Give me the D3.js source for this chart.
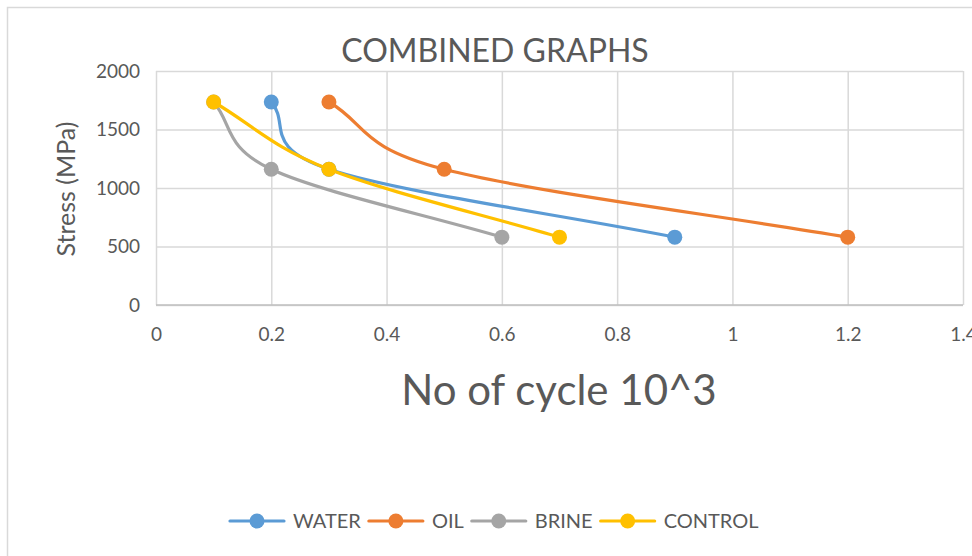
<!DOCTYPE html>
<html>
<head>
<meta charset="utf-8">
<script src="https://cdn.jsdelivr.net/npm/d3@7.9.0/dist/d3.min.js"></script>
<style>
  html, body { margin: 0; padding: 0; background: #fff; }
  svg { display: block; font-family: Lato, "Open Sans", sans-serif; }
</style>
</head>
<body>
<div id="chart"></div>
<script>
// ---------- Data ----------
const seriesNames = ["WATER", "OIL", "BRINE", "CONTROL"];
const seriesColors = ["#5b9bd5", "#ed7d31", "#a5a5a5", "#ffc000"];
const stress = [1735, 1160, 580];
const waterCycles = [0.2, 0.3, 0.9];
const oilCycles = [0.3, 0.5, 1.2];
const brineCycles = [0.1, 0.2, 0.6];
const controlCycles = [0.1, 0.3, 0.7];
const xTicks = [0, 0.2, 0.4, 0.6, 0.8, 1, 1.2, 1.4];
const yTicks = [0, 500, 1000, 1500, 2000];

const series = [waterCycles, oilCycles, brineCycles, controlCycles].map((xs, i) => ({
  name: seriesNames[i],
  color: seriesColors[i],
  points: xs.map((x, j) => ({ x, y: stress[j] }))
}));

// ---------- Excel-like smoothed curve ----------
// bezier segments, control points at +-1/6 of neighbour chord,
// ends reflected so the first/last handle follows the chord
function curveExcel(context) {
  let pts;
  return {
    areaStart() {}, areaEnd() {},
    lineStart() { pts = []; },
    point(x, y) { pts.push([+x, +y]); },
    lineEnd() {
      const n = pts.length;
      if (!n) return;
      context.moveTo(pts[0][0], pts[0][1]);
      if (n === 2) { context.lineTo(pts[1][0], pts[1][1]); return; }
      const p = i => {
        if (i < 0) return [2 * pts[0][0] - pts[1][0], 2 * pts[0][1] - pts[1][1]];
        if (i >= n) return [2 * pts[n - 1][0] - pts[n - 2][0], 2 * pts[n - 1][1] - pts[n - 2][1]];
        return pts[i];
      };
      for (let i = 0; i < n - 1; i++) {
        const p0 = p(i - 1), p1 = p(i), p2 = p(i + 1), p3 = p(i + 2);
        context.bezierCurveTo(
          p1[0] + (p2[0] - p0[0]) / 6, p1[1] + (p2[1] - p0[1]) / 6,
          p2[0] - (p3[0] - p1[0]) / 6, p2[1] - (p3[1] - p1[1]) / 6,
          p2[0], p2[1]);
      }
    }
  };
}

// ---------- Layout ----------
const width = 972, height = 556;
const plot = { left: 156, right: 963, top: 71, bottom: 305 };
const textColor = "#595959";

const svg = d3.select("#chart")
  .append("svg")
  .attr("width", width)
  .attr("height", height);

// outer chart border
svg.append("rect")
  .attr("x", 7.5).attr("y", 7.5)
  .attr("width", width).attr("height", height)
  .attr("fill", "none")
  .attr("stroke", "#d9d9d9")
  .attr("stroke-width", 1.5);

const xScale = d3.scaleLinear().domain([0, 1.4]).range([plot.left, plot.right]);
const yScale = d3.scaleLinear().domain([0, 2000]).range([plot.bottom, plot.top]);

// ---------- Gridlines ----------
svg.append("g")
  .attr("class", "gridlines")
  .attr("transform", `translate(${plot.left},0)`)
  .call(d3.axisLeft(yScale).tickValues(yTicks).tickFormat("").tickSize(-(plot.right - plot.left)))
  .call(g => g.select(".domain").remove())
  .call(g => g.selectAll("line").attr("stroke", "#d9d9d9").attr("stroke-width", 1.5));

svg.append("g")
  .attr("class", "gridlines")
  .attr("transform", `translate(0,${plot.bottom})`)
  .call(d3.axisBottom(xScale).tickValues(xTicks).tickFormat("").tickSize(-(plot.bottom - plot.top)))
  .call(g => g.select(".domain").remove())
  .call(g => g.selectAll("line").attr("stroke", "#d9d9d9").attr("stroke-width", 1.5));

// ---------- Axes labels ----------
svg.append("g")
  .attr("transform", `translate(${plot.left},0)`)
  .call(d3.axisLeft(yScale).tickValues(yTicks).tickSize(0).tickPadding(16)
    .tickFormat(d => String(d)))
  .call(g => g.select(".domain").remove())
  .call(g => g.selectAll("text")
    .attr("fill", textColor)
    .style("font-size", "19px")
    .style("font-family", "Lato, sans-serif"));

svg.append("g")
  .attr("transform", `translate(0,${plot.bottom})`)
  .call(d3.axisBottom(xScale).tickValues(xTicks).tickSize(0).tickPadding(23)
    .tickFormat(d => String(d)))
  .call(g => g.select(".domain").remove())
  .call(g => g.selectAll("text")
    .attr("fill", textColor)
    .style("font-size", "19px")
    .style("font-family", "Lato, sans-serif"));

// axis line at y = 0
svg.append("line")
  .attr("x1", plot.left).attr("x2", plot.right)
  .attr("y1", yScale(0)).attr("y2", yScale(0))
  .attr("stroke", "#bfbfbf").attr("stroke-width", 1.5);

// ---------- Titles ----------
svg.append("text")
  .attr("x", 495).attr("y", 62)
  .attr("text-anchor", "middle")
  .attr("fill", textColor)
  .style("font-size", "32px")
  .text("COMBINED GRAPHS");

svg.append("text")
  .attr("x", 559).attr("y", 405)
  .attr("text-anchor", "middle")
  .attr("fill", textColor)
  .style("font-size", "42px")
  .text("No of cycle 10^3");

svg.append("text")
  .attr("transform", "translate(75,189) rotate(-90)")
  .attr("text-anchor", "middle")
  .attr("fill", textColor)
  .style("font-size", "25px")
  .text("Stress (MPa)");

// ---------- Lines ----------
const line = d3.line()
  .x(d => xScale(d.x))
  .y(d => yScale(d.y))
  .curve(curveExcel);

const gSeries = svg.append("g").attr("class", "series")
  .selectAll("g")
  .data(series)
  .join("g");

gSeries.append("path")
  .attr("d", d => line(d.points))
  .attr("fill", "none")
  .attr("stroke", d => d.color)
  .attr("stroke-width", 3.2)
  .attr("stroke-linecap", "round");

gSeries.selectAll("circle")
  .data(d => d.points.map(p => ({ ...p, color: d.color })))
  .join("circle")
  .attr("cx", d => xScale(d.x))
  .attr("cy", d => yScale(d.y))
  .attr("r", 7.5)
  .attr("fill", d => d.color);

// ---------- Legend ----------
const legendY = 521;
const swatch = 54;
const legend = svg.append("g").attr("class", "legend")
  .attr("transform", `translate(230,${legendY})`);

let lx = 0;
series.forEach(d => {
  const item = legend.append("g").attr("transform", `translate(${lx},0)`);
  item.append("line")
    .attr("x1", 0).attr("x2", swatch)
    .attr("stroke", d.color)
    .attr("stroke-width", 3.2)
    .attr("stroke-linecap", "round");
  item.append("circle")
    .attr("cx", swatch / 2)
    .attr("r", 7.5)
    .attr("fill", d.color);
  const t = item.append("text")
    .attr("x", swatch + 9)
    .attr("dy", "0.35em")
    .attr("fill", textColor)
    .style("font-size", "20px")
    .text(d.name);
  lx += swatch + 9 + t.node().getComputedTextLength() + 8;
});
</script>
</body>
</html>
